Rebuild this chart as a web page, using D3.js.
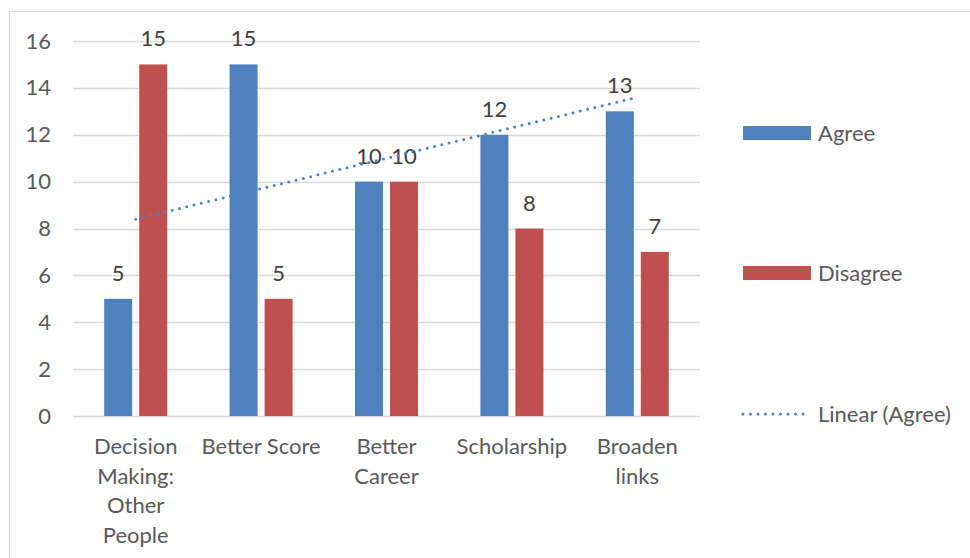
<!DOCTYPE html>
<html><head><meta charset="utf-8">
<script src="https://cdn.jsdelivr.net/npm/d3@7"></script>
<style>body{margin:0;background:#fff}svg{display:block}</style>
</head><body>
<svg id="c" width="970" height="558"></svg>
<script>
const categories = [["Decision","Making:","Other","People"],["Better Score"],["Better","Career"],["Scholarship"],["Broaden","links"]];
const agree = [5, 15, 10, 12, 13];
const disagree = [15, 5, 10, 8, 7];
const seriesNames = ["Agree", "Disagree"];
const yTicks = [0, 2, 4, 6, 8, 10, 12, 14, 16];
const colors = ["#4f81bd", "#c0504d"];

const FONT = "Lato, 'Open Sans', sans-serif";
const FS = 22;
const svg = d3.select("#c");
svg.append("rect").attr("x", 9.5).attr("y", 11.5).attr("width", 980).attr("height", 560)
  .attr("fill", "#fff").attr("stroke", "#d9d9d9");

const x = d3.scaleBand().domain(d3.range(categories.length)).range([73, 700]);
const y = d3.scaleLinear().domain([0, 16]).range([416, 41]);
const barW = 28, gap = 7;

const g = svg.append("g");
// gridlines
g.selectAll("line.grid").data(yTicks).join("line")
  .attr("x1", 73).attr("x2", 700)
  .attr("y1", d => Math.round(y(d)) + 0.5).attr("y2", d => Math.round(y(d)) + 0.5)
  .attr("stroke", "#d9d9d9").attr("stroke-width", 1.3);

// y axis labels
const yAxis = d3.axisLeft(y).tickValues(yTicks).tickSize(0).tickPadding(0);
const ya = svg.append("g").attr("transform", "translate(51,0)").call(yAxis);
ya.select(".domain").remove();
ya.selectAll("text").attr("font-family", FONT).attr("font-size", FS).attr("fill", "#595959");

const center = i => x(i) + x.bandwidth() / 2;
const seriesData = [agree, disagree];
seriesData.forEach((vals, s) => {
  const bx = i => s === 0 ? center(i) - gap / 2 - barW : center(i) + gap / 2;
  g.selectAll("rect.s" + s).data(vals).join("rect")
    .attr("x", (d, i) => bx(i)).attr("width", barW)
    .attr("y", d => y(d)).attr("height", d => y(0) - y(d))
    .attr("fill", colors[s]);
  g.selectAll("text.l" + s).data(vals).join("text")
    .attr("x", (d, i) => bx(i) + barW / 2).attr("y", d => y(d) - 18)
    .attr("text-anchor", "middle").attr("font-family", FONT).attr("font-size", FS)
    .attr("fill", "#404040").text(d => d);
});

// trendline (linear regression of Agree)
const xs = agree.map((d, i) => i + 1);
const mx = d3.mean(xs), my = d3.mean(agree);
const slope = d3.sum(xs, (v, i) => (v - mx) * (agree[i] - my)) / d3.sum(xs, v => (v - mx) ** 2);
const icpt = my - slope * mx;
const trend = [0, categories.length - 1].map(i => [center(i), y(icpt + slope * (i + 1))]);
g.append("path").attr("d", d3.line()(trend)).attr("stroke", "#4f81bd").attr("stroke-width", 3)
  .attr("stroke-dasharray", "0 7.5").attr("stroke-linecap", "round").attr("fill", "none");

// x axis labels
const xl = svg.append("g");
categories.forEach((lines, i) => {
  const t = xl.append("text").attr("text-anchor", "middle").attr("font-family", FONT)
    .attr("font-size", FS).attr("fill", "#595959");
  lines.forEach((ln, j) => t.append("tspan").attr("x", center(i)).attr("y", 454 + j * 29.5).text(ln));
});

// legend
const leg = svg.append("g");
[["Agree", 133], ["Disagree", 273]].forEach(([name, ly], k) => {
  leg.append("rect").attr("x", 743).attr("y", ly - 7).attr("width", 68).attr("height", 14).attr("fill", colors[k]);
  leg.append("text").attr("x", 818).attr("y", ly + 8).attr("font-family", FONT).attr("font-size", FS)
    .attr("fill", "#595959").text(name);
});
leg.append("line").attr("x1", 743).attr("x2", 808).attr("y1", 414).attr("y2", 414)
  .attr("stroke", "#4f81bd").attr("stroke-width", 3).attr("stroke-dasharray", "0 7.5").attr("stroke-linecap", "round");
leg.append("text").attr("x", 818).attr("y", 422).attr("font-family", FONT).attr("font-size", FS)
  .attr("fill", "#595959").text("Linear (Agree)");
</script>
</body></html>
